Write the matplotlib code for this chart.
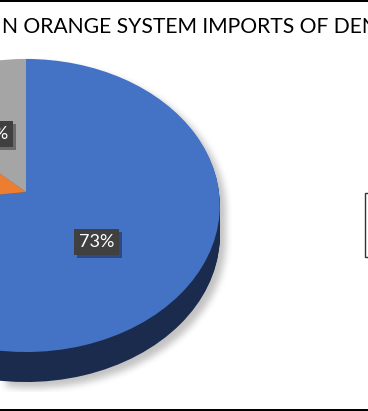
import numpy as np
import matplotlib
matplotlib.use("Agg")
import matplotlib.pyplot as plt
from matplotlib.transforms import Transform, Affine2D
from matplotlib.lines import Line2D
from matplotlib.patches import Patch
import matplotlib.patheffects as pe

# ---------------- data ----------------
title = "N ORANGE SYSTEM IMPORTS OF DEN"
categories = ["Category 1", "Category 2", "Category 3"]
values = [73, 14, 13]
pct_labels = ["73%", "14%", "13%"]
top_colors = ["#4472C4", "#ED7D31", "#A5A5A5"]
side_colors = ["#1B2B4D", "#8C4418", "#5E5E5E"]

# ---------------- layout ----------------
W, H = 368, 411
CX, CY = 26.0, H - 192.0      # pie centre in pixel-like data coords (y up)
A, B, C = 193.0, 145.3, 0.092  # perspective ellipse parameters
DEPTH = 30


class Persp(Transform):
    """Unit-disc plane -> tilted, perspective view (data coords)."""
    input_dims = 2
    output_dims = 2
    is_separable = False
    has_inverse = False

    def transform_non_affine(self, xy):
        xy = np.asarray(xy, float)
        single = xy.ndim == 1
        xy = np.atleast_2d(xy)
        x, y = xy[:, 0], xy[:, 1]
        w = 1 + C * y
        out = np.column_stack([CX + A * x / w, CY + B * y / w])
        return out[0] if single else out


persp = Persp()

fig = plt.figure(figsize=(W / 100, H / 100), dpi=100)
ax = fig.add_axes([0, 0, 1, 1])

# ---- soft shadow (raster decoration) ----
xs = np.arange(W) + 0.5
ys = np.arange(H) + 0.5
XX, YY = np.meshgrid(xs - CX, ys - CY)


def inside(X, Y):
    y = Y / (B - C * Y)
    w = 1 + C * y
    x = X * w / A
    return x * x + y * y <= 1


mask = np.zeros((H, W), bool)
for d in range(0, DEPTH + 1):
    mask |= inside(XX, YY + d)
sx, sy = 6, 6
sh = np.zeros((H, W))
sh[:H - sy, sx:] = mask[sy:, :W - sx]


def blur(img, k):
    ker = np.ones(k) / k
    img = np.apply_along_axis(lambda r: np.convolve(r, ker, mode="same"), 1, img)
    img = np.apply_along_axis(lambda r: np.convolve(r, ker, mode="same"), 0, img)
    return img


for _ in range(3):
    sh = blur(sh, 7)
sh[: H - 392, :] = 0  # clipped by plot area bottom
rgba = np.zeros((H, W, 4))
rgba[..., 3] = sh * 0.24
ax.imshow(rgba, extent=(0, W, 0, H), origin="lower", aspect="auto",
          zorder=0.5, interpolation="nearest")

# ---- pie side (depth layers) ----
for d in range(DEPTH, 0, -1):
    wedges, _ = ax.pie(values, startangle=90, counterclock=False,
                       colors=side_colors,
                       wedgeprops=dict(linewidth=0, zorder=1))
    tr = persp + Affine2D().translate(0, -d) + ax.transData
    for w in wedges:
        w.set_transform(tr)

# ---- pie top ----
wedges, _ = ax.pie(values, startangle=90, counterclock=False,
                   colors=top_colors, wedgeprops=dict(linewidth=0, zorder=3))
for w in wedges:
    w.set_transform(persp + ax.transData)

# ---- data labels ----
total = float(sum(values))
cum = 0.0
rr = 0.475
for v, lab in zip(values, pct_labels):
    mid = np.deg2rad(90 - (cum + v / 2) / total * 360)
    cum += v
    px, py = persp.transform_non_affine(np.array([rr * np.cos(mid), rr * np.sin(mid)]))
    t = ax.text(px, py - 3, lab, ha="center", va="center", fontsize=13,
                fontfamily="Lato", color="white", zorder=6,
                bbox=dict(boxstyle="square,pad=0.27", fc="#404040", ec="none"))
    t.get_bbox_patch().set_path_effects(
        [pe.SimplePatchShadow(offset=(2, -2), shadow_rgbFace="black", alpha=0.35),
         pe.Normal()])

ax.set_xlim(0, W)
ax.set_ylim(0, H)
ax.set_aspect("auto")
ax.axis("off")

# ---- legend (mostly outside the crop) ----
handles = [Patch(facecolor=c, edgecolor="none") for c in top_colors]
leg = fig.legend(handles, categories, loc="upper left",
                 bbox_to_anchor=(365 / W, 1 - 193 / H), borderaxespad=0,
                 frameon=True, fancybox=False, fontsize=9, borderpad=0.45,
                 labelspacing=0.55, handlelength=0.8)
leg.get_frame().set_edgecolor("black")
leg.get_frame().set_linewidth(1.0)

# ---- title ----
fig.text(2.5 / W, 1 - 33 / H, title, ha="left", va="baseline",
         fontfamily="Lato", fontsize=15.2, color="black")

# ---- chart border lines ----
for yy in (1 - 1 / H, 1 / H):
    fig.add_artist(Line2D([0, 1], [yy, yy], transform=fig.transFigure,
                          color="black", linewidth=1.44))

fig.savefig("out.png", dpi=100)
